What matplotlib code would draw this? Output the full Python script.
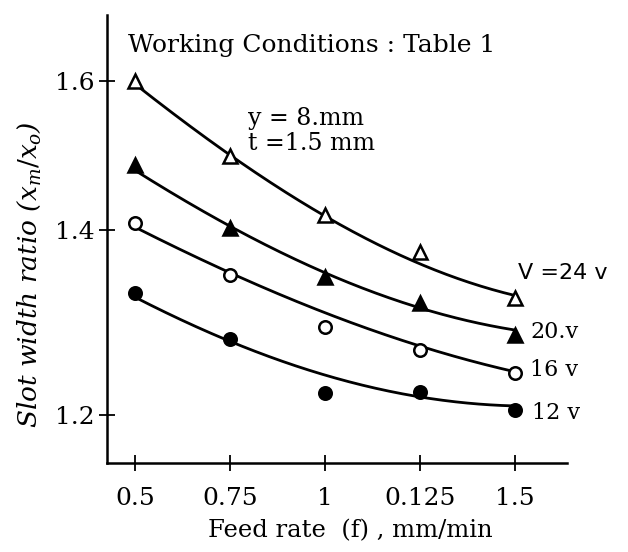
import numpy as np
import matplotlib.pyplot as plt

# =============================================================================
# DATA
# =============================================================================
feed_labels = ['0.5', '0.75', '1', '0.125', '1.5']

# measured points
pts_24 = [1.600, 1.495, 1.418, 1.374, 1.321]
pts_20 = [1.482, 1.403, 1.345, 1.316, 1.281]
pts_16 = [1.409, 1.347, 1.289, 1.265, 1.242]
pts_12 = [1.327, 1.277, 1.221, 1.222, 1.205]

# fitted trend curves, read at the same feed rates
fit_24 = [1.597, 1.493, 1.416, 1.364, 1.322]
fit_20 = [1.476, 1.403, 1.351, 1.310, 1.286]
fit_16 = [1.405, 1.345, 1.310, 1.267, 1.243]
fit_12 = [1.322, 1.276, 1.234, 1.223, 1.207]

y_ticks = [1.2, 1.4, 1.6]

# =============================================================================
# FIGURE
# =============================================================================
plt.rcParams['font.family'] = ['DejaVu Serif']
plt.rcParams['mathtext.fontset'] = 'dejavuserif'

fig = plt.figure(figsize=(6.28, 5.52), dpi=100)
ax = fig.add_axes([0.1704, 0.1612, 0.7325, 0.8116])

xi = np.arange(len(feed_labels))
xs = np.linspace(xi[0], xi[-1], 200)

series = [
    (pts_24, fit_24, '^', 'white', 10),
    (pts_20, fit_20, '^', 'black', 10),
    (pts_16, fit_16, 'o', 'white', 9),
    (pts_12, fit_12, 'o', 'black', 9),
]

for pts, fit, mk, fc, ms in series:
    # smooth curve through the read trend values
    coef = np.polyfit(xi, fit, 2)
    ax.plot(xs, np.polyval(coef, xs), color='black', lw=2.0, zorder=2)
    ax.plot(xi, pts, linestyle='none', marker=mk, ms=ms,
            mfc=fc, mec='black', mew=1.8, zorder=3)

# the original y scale is not linear: spacing grows toward the bottom
ax.set_yscale('function', functions=(lambda y: -np.power(y, -0.5),
                                     lambda u: np.power(-u, -2.0)))
ax.set_ylim(1.1551, 1.7025)
ax.set_xlim(-0.295, 4.547)

ax.set_xticks(xi)
ax.set_xticklabels(feed_labels)
ax.set_yticks(y_ticks)
ax.set_yticklabels([f'{v:.1f}' for v in y_ticks])
ax.minorticks_off()

ax.spines['top'].set_visible(False)
ax.spines['right'].set_visible(False)
ax.spines['left'].set_linewidth(1.8)
ax.spines['bottom'].set_linewidth(1.8)
ax.tick_params(direction='inout', length=12, width=1.3, labelsize=18)
ax.tick_params(axis='x', pad=11)
ax.tick_params(axis='y', pad=3)

ax.set_xlabel('Feed rate  (f) , mm/min', fontsize=17.5)
ax.xaxis.set_label_coords(0.528, -0.125)
ax.set_ylabel(r'Slot width ratio ($x_m/x_o$)', fontsize=19, style='italic')
ax.yaxis.set_label_coords(-0.14, 0.42)

# =============================================================================
# ANNOTATIONS
# =============================================================================
tr = ax.transAxes
ax.text(0.046, 0.933, 'Working Conditions : Table 1', transform=tr,
        fontsize=18, va='center', ha='left')
ax.text(0.307, 0.770, 'y = 8.mm', transform=tr, fontsize=17, va='center')
ax.text(0.307, 0.713, 't =1.5 mm', transform=tr, fontsize=17, va='center')

ax.text(0.894, 0.424, 'V =24 v', transform=tr, fontsize=16,
        family=['DejaVu Sans'], va='center')
ax.text(0.920, 0.293, '20.v', transform=tr, fontsize=16, va='center')
ax.text(0.920, 0.207, '16 v', transform=tr, fontsize=16, va='center')
ax.text(0.924, 0.112, '12 v', transform=tr, fontsize=16, va='center')

fig.savefig('out.png', dpi=100)
